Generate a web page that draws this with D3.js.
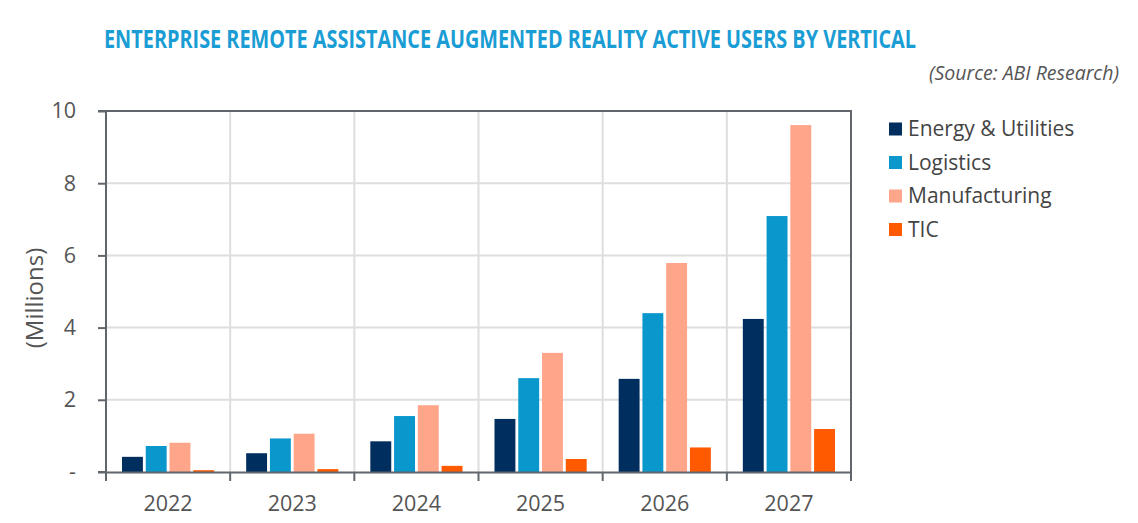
<!DOCTYPE html>
<html>
<head>
<meta charset="utf-8">
<script src="https://cdn.jsdelivr.net/npm/d3@7"></script>
<style>
  body { margin: 0; background: #fff; }
  text { font-family: "Open Sans", "Noto Sans", sans-serif; }
</style>
</head>
<body>
<div id="chart"></div>
<script>
// data (millions of users)
var years = ["2022", "2023", "2024", "2025", "2026", "2027"];
var verticals = ["Energy & Utilities", "Logistics", "Manufacturing", "TIC"];
var energy = [0.42, 0.52, 0.85, 1.47, 2.58, 4.24];
var logistics = [0.72, 0.93, 1.55, 2.6, 4.4, 7.09];
var manufacturing = [0.81, 1.06, 1.85, 3.3, 5.79, 9.61];
var tic = [0.05, 0.08, 0.17, 0.36, 0.68, 1.19];
var yTicks = [0, 2, 4, 6, 8, 10];
var colors = ["#002e5f", "#0a97cc", "#ffa58a", "#ff5a00"];

var seriesValues = [energy, logistics, manufacturing, tic];

var W = 1138, H = 523;
var margin = {top: 111, right: 287, bottom: 51, left: 106},
    width = W - margin.left - margin.right,
    height = H - margin.top - margin.bottom;

var svg = d3.select("#chart")
  .append("svg")
    .attr("width", W)
    .attr("height", H);

// title + source
svg.append("text")
  .attr("x", 104)
  .attr("y", 48)
  .attr("textLength", 812)
  .attr("lengthAdjust", "spacingAndGlyphs")
  .style("font-size", "25px")
  .style("font-weight", "bold")
  .style("fill", "#1a9dd4")
  .text("ENTERPRISE REMOTE ASSISTANCE AUGMENTED REALITY ACTIVE USERS BY VERTICAL");

svg.append("text")
  .attr("x", 1119)
  .attr("y", 80)
  .attr("text-anchor", "end")
  .style("font-size", "19.5px")
  .style("font-style", "italic")
  .style("fill", "#555")
  .text("(Source: ABI Research)");

var g = svg.append("g")
  .attr("transform", "translate(" + margin.left + "," + margin.top + ")");

var x = d3.scaleBand()
  .domain(years)
  .range([0, width]);

var xInner = d3.scaleBand()
  .domain(verticals)
  .range([16, x.bandwidth() - 16])
  .paddingInner(0.12);

var y = d3.scaleLinear()
  .domain([0, 10])
  .range([height, 0]);

// grid
g.append("g")
  .selectAll("line")
  .data(yTicks.slice(1, -1))
  .enter()
  .append("line")
    .attr("x1", 0)
    .attr("x2", width)
    .attr("y1", function(d) { return y(d); })
    .attr("y2", function(d) { return y(d); })
    .attr("stroke", "#dedede")
    .attr("stroke-width", 2);

g.append("g")
  .selectAll("line")
  .data(years.slice(1))
  .enter()
  .append("line")
    .attr("x1", function(d) { return x(d); })
    .attr("x2", function(d) { return x(d); })
    .attr("y1", 0)
    .attr("y2", height)
    .attr("stroke", "#dedede")
    .attr("stroke-width", 2);

// bars
var rows = [];
years.forEach(function(yr, i) {
  verticals.forEach(function(v, j) {
    rows.push({year: yr, vertical: v, value: seriesValues[j][i], color: colors[j]});
  });
});

g.append("g")
  .selectAll("rect")
  .data(rows)
  .enter()
  .append("rect")
    .attr("x", function(d) { return x(d.year) + xInner(d.vertical); })
    .attr("y", function(d) { return y(d.value); })
    .attr("width", xInner.bandwidth())
    .attr("height", function(d) { return height - y(d.value); })
    .attr("fill", function(d) { return d.color; });

// frame: top and right
g.append("path")
  .attr("d", "M0,0H" + width + "V" + height)
  .attr("fill", "none")
  .attr("stroke", "#60666b")
  .attr("stroke-width", 2);

// axes
var yAxis = g.append("g")
  .call(d3.axisLeft(y)
    .tickValues(yTicks)
    .tickSize(8)
    .tickPadding(22)
    .tickFormat(function(d) { return d === 0 ? "-" : d; }));

var xAxis = g.append("g")
  .attr("transform", "translate(0," + height + ")")
  .call(d3.axisBottom(x).tickSize(0).tickPadding(20));

// boundary ticks on x axis
g.append("g")
  .selectAll("line")
  .data(years.concat(["end"]))
  .enter()
  .append("line")
    .attr("x1", function(d) { return d === "end" ? width : x(d); })
    .attr("x2", function(d) { return d === "end" ? width : x(d); })
    .attr("y1", height)
    .attr("y2", height + 9)
    .attr("stroke", "#60666b")
    .attr("stroke-width", 2);

[yAxis, xAxis].forEach(function(a) {
  a.select(".domain").attr("stroke", "#60666b").attr("stroke-width", 2);
  a.selectAll(".tick line").attr("stroke", "#60666b").attr("stroke-width", 2);
  a.selectAll(".tick text")
    .style("font-size", "21.5px")
    .style("fill", "#555")
    .style("font-family", "'Open Sans', sans-serif");
});
yAxis.select(".domain").attr("d", "M-8,0H0V" + height + "H-8");
xAxis.selectAll(".tick text").attr("dy", "0.9em");

// y label
svg.append("text")
  .attr("transform", "translate(43,298) rotate(-90)")
  .attr("text-anchor", "middle")
  .style("font-size", "24px")
  .style("fill", "#555")
  .text("(Millions)");

// legend
var legend = svg.append("g")
  .selectAll("g")
  .data(verticals)
  .enter()
  .append("g")
    .attr("transform", function(d, i) { return "translate(889," + (129 + i * 33.5) + ")"; });

legend.append("rect")
  .attr("x", 0)
  .attr("y", -6.5)
  .attr("width", 13)
  .attr("height", 13)
  .attr("fill", function(d, i) { return colors[i]; });

legend.append("text")
  .attr("x", 19)
  .attr("y", 0)
  .attr("dy", "0.35em")
  .style("font-size", "21px")
  .style("fill", "#444")
  .text(function(d) { return d; });
</script>
</body>
</html>
